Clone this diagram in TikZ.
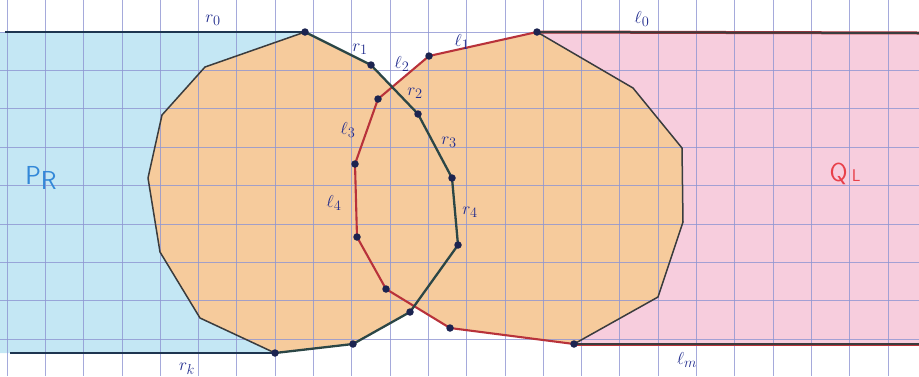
\documentclass[tikz,border=0pt]{standalone}
\usepackage{tikz}
\definecolor{paperblue}{HTML}{C4E7F4}
\definecolor{paperpink}{HTML}{F7CDDD}
\definecolor{paperorange}{HTML}{F6CB9C}
\definecolor{gridcol}{HTML}{8E95D2}
\definecolor{tealline}{HTML}{2B4646}
\definecolor{greyline}{HTML}{3A3C3E}
\definecolor{redline}{HTML}{B8323A}
\definecolor{navyline}{HTML}{1E3550}
\definecolor{dotcol}{HTML}{1C2450}
\definecolor{labcol}{HTML}{1F2A8C}
\definecolor{prcol}{HTML}{3388D8}
\definecolor{qlcol}{HTML}{E8404A}
\tikzset{
  vdot/.style={circle,fill=dotcol,inner sep=0pt,minimum size=7.5pt},
  lab/.style={text=labcol,font=\fontsize{19}{19}\selectfont,inner sep=0pt},
  pchain/.style={draw=tealline,line width=2.3pt,line join=round},
  qchain/.style={draw=redline,line width=2.1pt,line join=round},
  back/.style={draw=greyline,line width=1.5pt,line join=round},
  rail/.style={draw=navyline,line width=2.4pt},
  qrail/.style={draw=greyline,line width=2pt},
}
\begin{document}
\begin{tikzpicture}[x=1pt,y=-1pt]
\useasboundingbox (0,0) rectangle (919,376);
% P vertices
\coordinate (r0) at (305,32);
\coordinate (r1) at (371,65);
\coordinate (r2) at (418,114);
\coordinate (r3) at (452,178);
\coordinate (r4) at (458,245);
\coordinate (r5) at (410,312);
\coordinate (r6) at (353,344);
\coordinate (rk) at (275,353);
\coordinate (p1) at (200,318);
\coordinate (p2) at (160,252);
\coordinate (p3) at (148,178);
\coordinate (p4) at (162,115);
\coordinate (p5) at (205,67);
% Q vertices
\coordinate (l0) at (537,32);
\coordinate (l1) at (429,56);
\coordinate (l2) at (378,99);
\coordinate (l3) at (355,164);
\coordinate (l4) at (357,237);
\coordinate (l5) at (386,289);
\coordinate (l6) at (450,328);
\coordinate (lm) at (574,344);
\coordinate (q1) at (633,88);
\coordinate (q2) at (682,148);
\coordinate (q3) at (683,222);
\coordinate (q4) at (658,297);
% rail ends
\coordinate (tl) at (5,32);
\coordinate (bl) at (10,353);
\coordinate (tr) at (919,33);
\coordinate (br) at (919,344);
% fills
\fill[paperblue] (0,32) -- (r0) -- (p5) -- (p4) -- (p3) -- (p2) -- (p1) -- (rk) -- (0,353) -- cycle;
\fill[paperpink] (l0) -- (tr) -- (br) -- (lm) -- (q4) -- (q3) -- (q2) -- (q1) -- cycle;
\fill[paperorange] (r0) -- (r1) -- (r2) -- (r3) -- (r4) -- (r5) -- (r6) -- (rk) -- (p1) -- (p2) -- (p3) -- (p4) -- (p5) -- cycle;
\fill[paperorange] (l0) -- (l1) -- (l2) -- (l3) -- (l4) -- (l5) -- (l6) -- (lm) -- (q4) -- (q3) -- (q2) -- (q1) -- cycle;
% grid
\foreach \i in {0,...,23} \draw[gridcol,line width=0.7pt,opacity=0.8] ({7+38.3*\i},0) -- ({7+38.3*\i},376);
\foreach \j in {0,...,8} \draw[gridcol,line width=0.7pt,opacity=0.8] (0,{32+38.4*\j}) -- (919,{32+38.4*\j});
% rails
\draw[rail] (tl) -- (r0);
\draw[rail] (bl) -- (rk);
\draw[redline,line width=3pt] (l0) -- (tr);
\draw[qrail] (l0) -- (tr);
\draw[redline,line width=3pt] (lm) -- (br);
\draw[qrail] (lm) -- (br);
% back chains
\draw[back] (r0) -- (p5) -- (p4) -- (p3) -- (p2) -- (p1) -- (rk);
\draw[back] (l0) -- (q1) -- (q2) -- (q3) -- (q4) -- (lm);
% front chains
\draw[qchain] (l0) -- (l1) -- (l2) -- (l3) -- (l4) -- (l5) -- (l6) -- (lm);
\draw[pchain] (r0) -- (r1) -- (r2) -- (r3) -- (r4) -- (r5) -- (r6) -- (rk);
% dots
\foreach \v in {r0,r1,r2,r3,r4,r5,r6,rk,l0,l1,l2,l3,l4,l5,l6,lm} \node[vdot] (d\v) at (\v) {};
% labels
\node[lab] (tr0) at (213,20) {$r_0$};
\node[lab] (tr1) at (360,49) {$r_1$};
\node[lab] (tr2) at (415,93) {$r_2$};
\node[lab] (tr3) at (449,142) {$r_3$};
\node[lab] (tr4) at (470,212) {$r_4$};
\node[lab] (trk) at (187,369) {$r_k$};
\node[lab] (tl0) at (642,19) {$\ell_0$};
\node[lab] (tl1) at (462,42) {$\ell_1$};
\node[lab] (tl2) at (402,64) {$\ell_2$};
\node[lab] (tl3) at (348,130) {$\ell_3$};
\node[lab] (tl4) at (334,203) {$\ell_4$};
\node[lab] (tlm) at (687,360) {$\ell_m$};
\node[text=prcol,font=\sffamily\fontsize{26}{26}\selectfont,inner sep=0pt] (PR) at (41,178) {P\raisebox{-5pt}{R}};
\node[text=qlcol,font=\sffamily\fontsize{26}{26}\selectfont,inner sep=0pt] (QL) at (845,174) {Q\,{\fontsize{17}{17}\selectfont L}};
\end{tikzpicture}
\end{document}
